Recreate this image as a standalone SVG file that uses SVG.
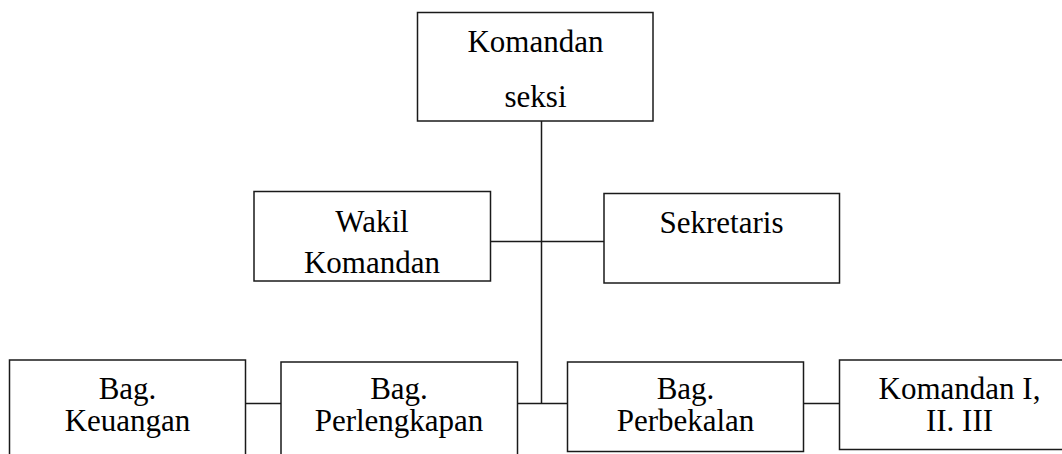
<svg xmlns="http://www.w3.org/2000/svg" width="1062" height="454" viewBox="0 0 1062 454">
<style>
.box{fill:#fff;stroke:#1a1a1a;stroke-width:1.5}
.ln{stroke:#1a1a1a;stroke-width:1.5;fill:none}
text{font-family:"Liberation Serif","Times New Roman",serif;font-size:31px;fill:#000;text-anchor:middle}
</style>
<rect width="1062" height="454" fill="#fff"/>
<g id="connectors">
<line class="ln" x1="541.5" y1="121" x2="541.5" y2="403.5"/>
<line class="ln" x1="490.5" y1="241.5" x2="604" y2="241.5"/>
<line class="ln" x1="245.5" y1="403.5" x2="281" y2="403.5"/>
<line class="ln" x1="517.5" y1="403.5" x2="567.5" y2="403.5"/>
<line class="ln" x1="803.5" y1="403.5" x2="839.5" y2="403.5"/>
</g>
<g id="komandan-seksi">
<rect class="box" x="417.5" y="12.5" width="235.5" height="108.5"/>
<text x="535.5" y="52">Komandan</text>
<text x="535.5" y="107">seksi</text>
</g>
<g id="wakil-komandan">
<rect class="box" x="254" y="191.5" width="236.5" height="89.5"/>
<text x="372" y="232">Wakil</text>
<text x="372" y="273">Komandan</text>
</g>
<g id="sekretaris">
<rect class="box" x="604" y="193.5" width="235.5" height="89.5"/>
<text x="721.5" y="233">Sekretaris</text>
</g>
<g id="bag-keuangan">
<rect class="box" x="9.5" y="360" width="236" height="110"/>
<text x="127.5" y="399">Bag.</text>
<text x="127.5" y="431">Keuangan</text>
</g>
<g id="bag-perlengkapan">
<rect class="box" x="281" y="362" width="236.5" height="110"/>
<text x="399" y="399">Bag.</text>
<text x="399" y="431">Perlengkapan</text>
</g>
<g id="bag-perbekalan">
<rect class="box" x="567.5" y="362" width="236" height="89.5"/>
<text x="685.5" y="399">Bag.</text>
<text x="685.5" y="431">Perbekalan</text>
</g>
<g id="komandan-i-ii-iii">
<rect class="box" x="839.5" y="360" width="240" height="89.5"/>
<text x="959.5" y="399">Komandan I,</text>
<text x="959.5" y="431">II. III</text>
</g>
</svg>
